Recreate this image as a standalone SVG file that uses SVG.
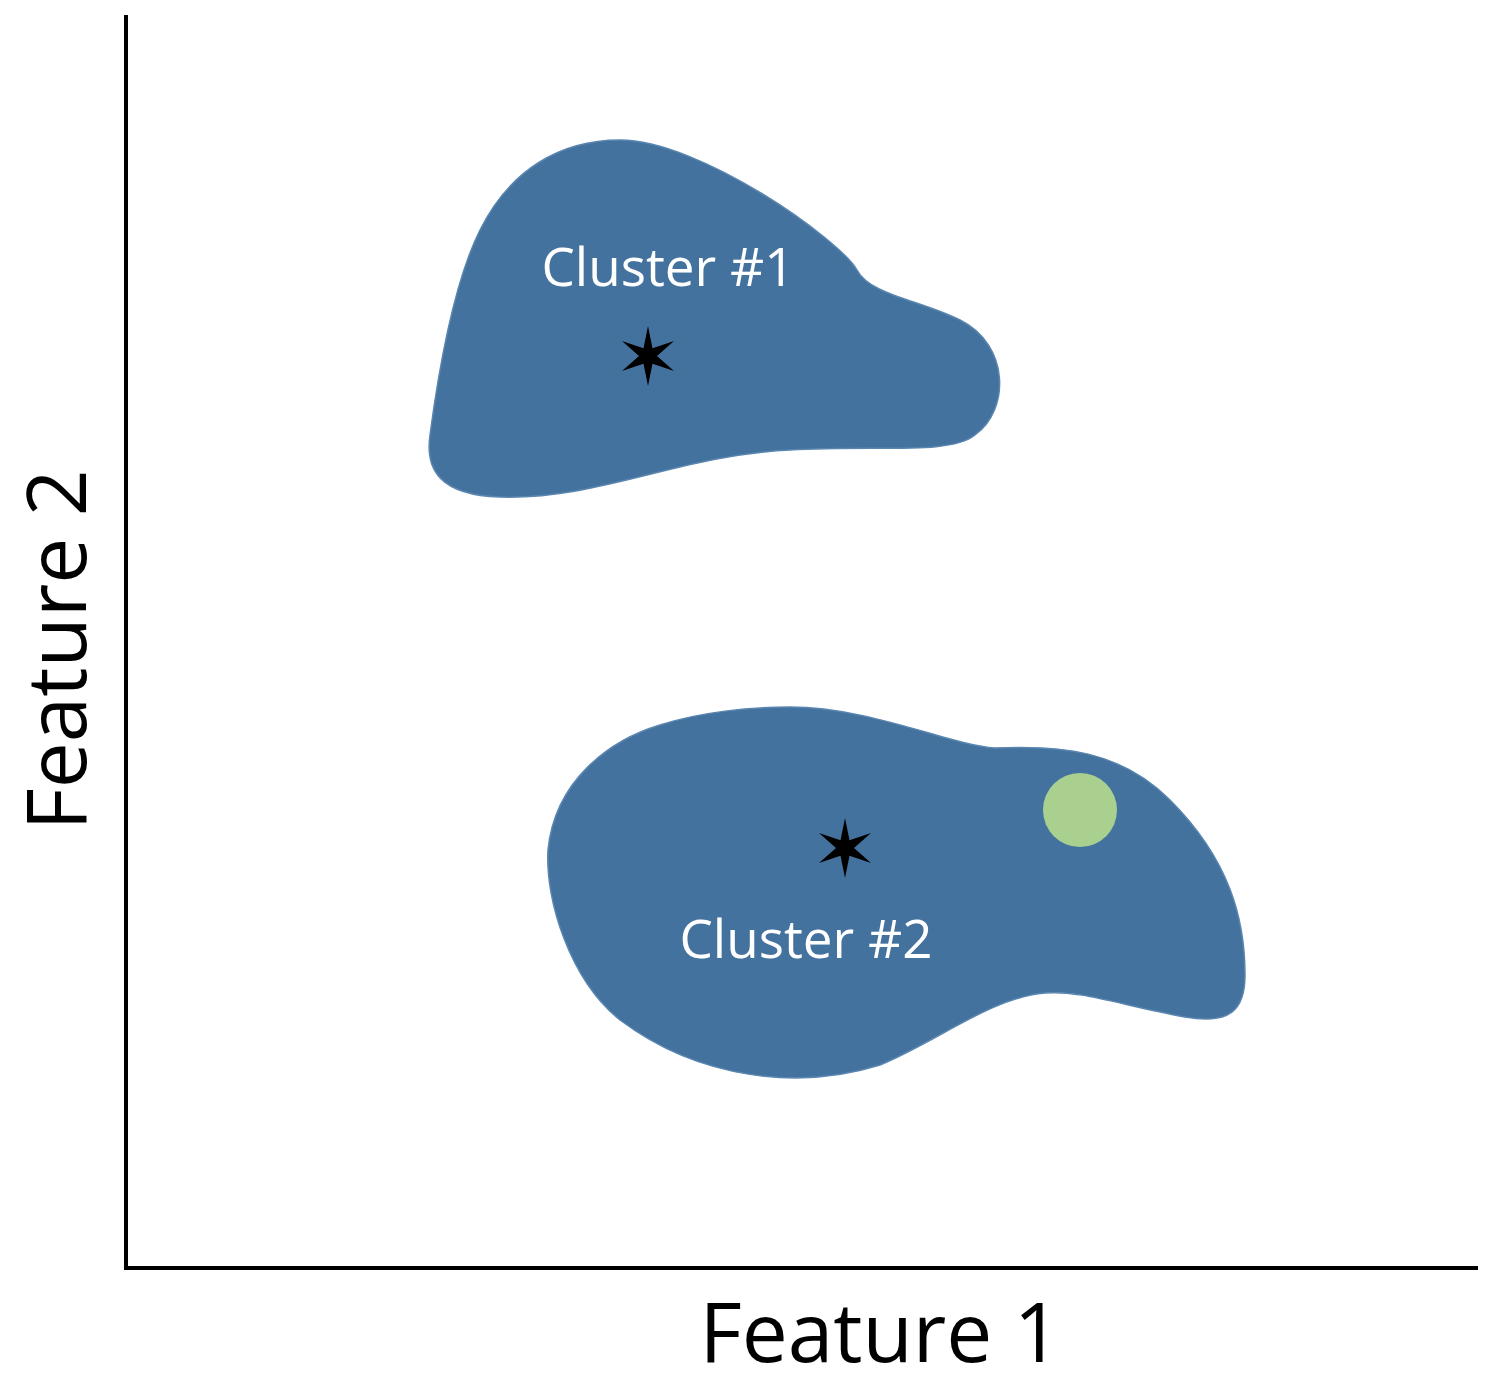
<svg xmlns="http://www.w3.org/2000/svg" width="1494" height="1384" viewBox="0 0 1494 1384">
<style>
.blob{fill:#44729E;stroke:#5a86b0;stroke-width:1.5}
.lbl{fill:#fff;font-family:"Open Sans","Liberation Sans",sans-serif;font-size:53px;text-anchor:middle}
.ax{fill:#000;font-family:"Open Sans","Liberation Sans",sans-serif;font-size:82px;text-anchor:middle}
</style>
<defs><polygon id="star" points="0,-30 4.5,-7.8 26,-15 9,0 26,15 4.5,7.8 0,30 -4.5,7.8 -26,15 -9,0 -26,-15 -4.5,-7.8" fill="#000"/></defs>
<rect width="1494" height="1384" fill="#fff"/>
<path d="M126,15 V1268 H1478" fill="none" stroke="#000" stroke-width="4"/>
<g id="cluster1">
<path class="blob" d="M620,140 C700,140 840,240 857,270 C870,295 920,300 960,320 C1010,345 1010,410 975,435 C950,455 880,445 790,450 C680,455 600,500 500,497 C440,495 425,470 430,435 C440,360 455,280 480,230 C510,170 560,140 620,140 Z"/>
<text class="lbl" x="668" y="286">Cluster #1</text>
<use href="#star" x="648" y="356"/>
</g>
<g id="cluster2">
<path class="blob" d="M790,707 C870,707 950,745 995,748 C1060,745 1120,750 1170,800 C1230,860 1245,920 1245,975 C1245,1010 1230,1025 1185,1017 C1120,1005 1080,990 1045,993 C990,998 940,1040 880,1065 C800,1090 700,1080 620,1020 C570,980 545,900 548,850 C555,780 610,740 660,725 C700,712 750,707 790,707 Z"/>
<text class="lbl" x="806" y="958">Cluster #2</text>
<use href="#star" x="845" y="848"/>
<circle cx="1080" cy="810" r="37" fill="#A9D08E"/>
</g>
<text class="ax" x="880" y="1362">Feature 1</text>
<text class="ax" transform="translate(86,650) rotate(-90)">Feature 2</text>
</svg>
